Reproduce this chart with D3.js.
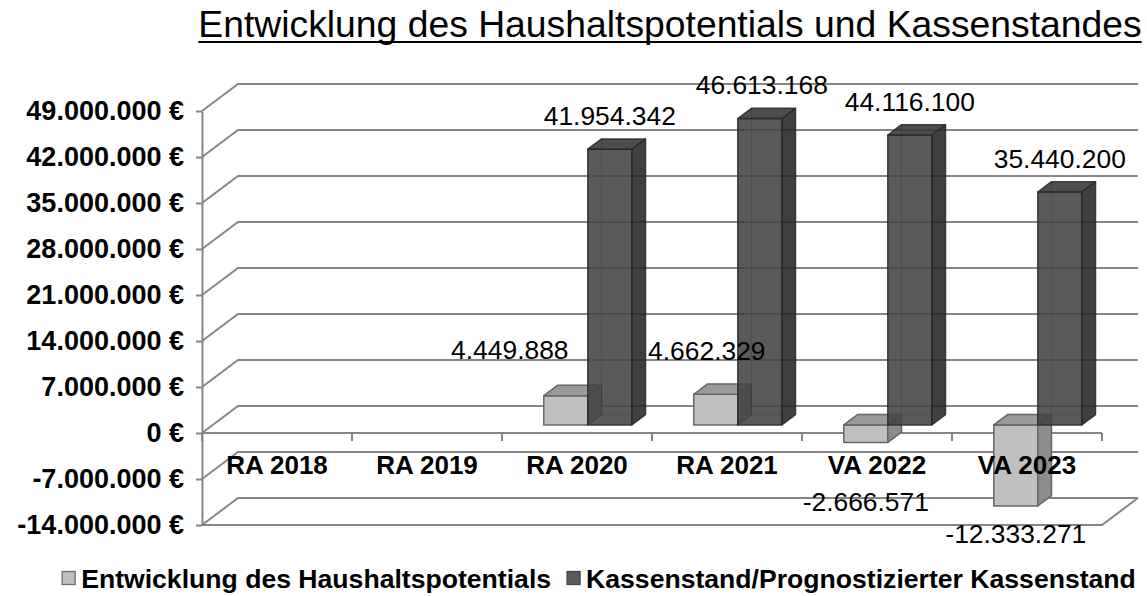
<!DOCTYPE html>
<html><head><meta charset="utf-8">
<script src="https://cdn.jsdelivr.net/npm/d3@7"></script>
<style>
html,body{margin:0;padding:0;background:#fff;}
svg text{font-family:Arial,"Liberation Sans",sans-serif;}
</style></head>
<body>
<script>
// ---- data ----
const categories = ["RA 2018","RA 2019","RA 2020","RA 2021","VA 2022","VA 2023"];
const seriesNames = ["Entwicklung des Haushaltspotentials","Kassenstand/Prognostizierter Kassenstand"];
const haushalt = [null, null, 4449888, 4662329, -2666571, -12333271];
const kasse = [null, null, 41954342, 46613168, 44116100, 35440200];
const yTicks = [-14000000,-7000000,0,7000000,14000000,21000000,28000000,35000000,42000000,49000000];
// label nudges (px) per series/category
const nudgeHaushalt = [[0,0],[0,0],[-56,-12],[-9,-10],[0,32],[0,0]];
const nudgeKasse = [[0,0],[0,0],[0,0],[2,0],[0,0],[0,0]];

// ---- setup ----
const W=1147,H=596;
const svg=d3.select("body").append("svg").attr("width",W).attr("height",H);
const loc=d3.formatLocale({decimal:",",thousands:".",grouping:[3],currency:["",""],minus:"-"});
const fmt=loc.format(",");

const x=d3.scaleBand().domain(categories).range([202,1102]).padding(0);
const y=d3.scaleLinear().domain([-14000000,49000000]).range([525,111]);
const DX=36, DY=-27;               // wall depth
const BOX=10.8, BOY=-8.1;          // bar front offset
const BDX=13.7, BDY=-10.3;         // bar depth
const barW=44;
const sub=d3.scaleBand().domain([0,1]).range([(x.bandwidth()-2*barW)/2,(x.bandwidth()+2*barW)/2]);
const gridC="#868686";

// ---- title ----
const title=svg.append("text").attr("x",670).attr("y",37).attr("text-anchor","middle")
  .attr("font-size",37.3).attr("fill","#000").text("Entwicklung des Haushaltspotentials und Kassenstandes");
const tb=title.node().getBBox();
svg.append("line").attr("x1",tb.x).attr("x2",tb.x+tb.width).attr("y1",42).attr("y2",42)
  .attr("stroke","#000").attr("stroke-width",2);

// ---- walls ----
const walls=svg.append("g").attr("stroke",gridC).attr("stroke-width",2).attr("fill","none");
walls.selectAll("path.g").data(yTicks).join("path").attr("class","g")
  .attr("d",t=>`M202,${y(t)}L${202+DX},${y(t)+DY}L${x.range()[1]+DX},${y(t)+DY}`);
// floor
walls.append("path").attr("d",`M202,${y(-14000000)}L${x.range()[1]},${y(-14000000)}L${x.range()[1]+DX},${y(-14000000)+DY}`);

// y axis
const yAxis=svg.append("g").attr("transform","translate(202,0)")
  .call(d3.axisLeft(y).tickValues(yTicks).tickSize(6).tickSizeOuter(0).tickPadding(12).tickFormat(d=>fmt(d)+" €"));
yAxis.selectAll("path,line").attr("stroke",gridC).attr("stroke-width",2);
yAxis.selectAll("text").attr("font-size",27).attr("font-weight","bold").attr("fill","#000")
  .style("font-family","Arial, 'Liberation Sans', sans-serif");

// category axis line + boundary ticks
const catG=svg.append("g").attr("stroke",gridC).attr("stroke-width",2);
catG.append("line").attr("x1",202).attr("x2",x.range()[1]).attr("y1",y(0)).attr("y2",y(0));
catG.selectAll("line.t").data(categories.concat(["end"])).join("line").attr("class","t")
  .attr("x1",d=>d==="end"?x.range()[1]:x(d)).attr("x2",d=>d==="end"?x.range()[1]:x(d))
  .attr("y1",y(0)).attr("y2",y(0)+8);

// ---- bars ----
const colors=[
  {front:"#c0c0c0",top:"#9a9a9a",side:"#8c8c8c",stroke:"#666666",op:1},
  {front:"#434343",top:"#353535",side:"#262626",stroke:"#2a2a2a",op:0.88}
];
const bars=[];
categories.forEach((c,i)=>{
  [haushalt[i],kasse[i]].forEach((v,s)=>{ if(v!==null) bars.push({c,i,s,v}); });
});
const barG=svg.append("g");
bars.forEach(b=>{
  const col=colors[b.s];
  const bx=x(b.c)+sub(b.s)+BOX;
  const y0=y(0)+BOY, yv=y(b.v)+BOY;
  const yT=Math.min(y0,yv), yB=Math.max(y0,yv);
  const g=barG.append("g").attr("stroke",col.stroke).attr("stroke-width",1.5)
    .attr("stroke-linejoin","round").attr("fill-opacity",col.op).attr("stroke-opacity",col.op);
  g.append("rect").attr("x",bx).attr("y",yT).attr("width",barW).attr("height",yB-yT).attr("fill",col.front);
  g.append("path").attr("fill",col.side)
    .attr("d",`M${bx+barW},${yT}L${bx+barW+BDX},${yT+BDY}L${bx+barW+BDX},${yB+BDY}L${bx+barW},${yB}Z`);
  g.append("path").attr("fill",col.top)
    .attr("d",`M${bx},${yT}L${bx+BDX},${yT+BDY}L${bx+barW+BDX},${yT+BDY}L${bx+barW},${yT}Z`);
  if(b.s===1){
    g.append("line").attr("x1",bx+BDX).attr("x2",bx+BDX).attr("y1",yT+BDY).attr("y2",yB+BDY)
      .attr("stroke","#000").attr("stroke-opacity",0.12).attr("stroke-width",1);
    g.append("line").attr("x1",bx+BDX).attr("x2",bx+barW).attr("y1",yB+BDY).attr("y2",yB+BDY)
      .attr("stroke","#000").attr("stroke-opacity",0.12).attr("stroke-width",1);
  }
  b.cx=bx+barW/2; b.backTop=yT+BDY; b.frontBot=yB;
});

// ---- category labels ----
const xAxis=svg.append("g").attr("transform",`translate(0,${y(0)})`)
  .call(d3.axisBottom(x).tickSize(0).tickPadding(22.5));
xAxis.select(".domain").remove();
xAxis.selectAll("text").attr("font-size",26).attr("font-weight","bold").attr("fill","#000")
  .style("font-family","Arial, 'Liberation Sans', sans-serif");

// ---- data labels ----
svg.append("g").selectAll("text").data(bars).join("text")
  .attr("text-anchor","middle").attr("font-size",26.4).attr("fill","#000")
  .attr("x",b=>b.cx+(b.s===0?nudgeHaushalt:nudgeKasse)[b.i][0])
  .attr("y",b=>(b.v>=0?b.backTop-14:b.frontBot+37)+(b.s===0?nudgeHaushalt:nudgeKasse)[b.i][1])
  .text(b=>fmt(b.v));

// ---- legend ----
const leg=svg.append("g");
const legItems=[];
seriesNames.forEach((n,s)=>{
  const g=leg.append("g");
  g.append("rect").attr("width",13).attr("height",13).attr("y",-6.5)
    .attr("fill",s===0?"#c0c0c0":"#5a5a5a").attr("stroke",s===0?"#6e6e6e":"#444").attr("stroke-width",1.3);
  const t=g.append("text").attr("x",19).attr("y",9.5).attr("font-size",26.6).attr("font-weight","bold").attr("fill","#000").text(n);
  legItems.push({g,w:19+t.node().getComputedTextLength()});
});
const gapL=16;
const total=legItems.reduce((a,b)=>a+b.w,0)+gapL;
let lx=599-total/2;
legItems.forEach(it=>{ it.g.attr("transform",`translate(${lx},578)`); lx+=it.w+gapL; });
</script>
</body></html>
